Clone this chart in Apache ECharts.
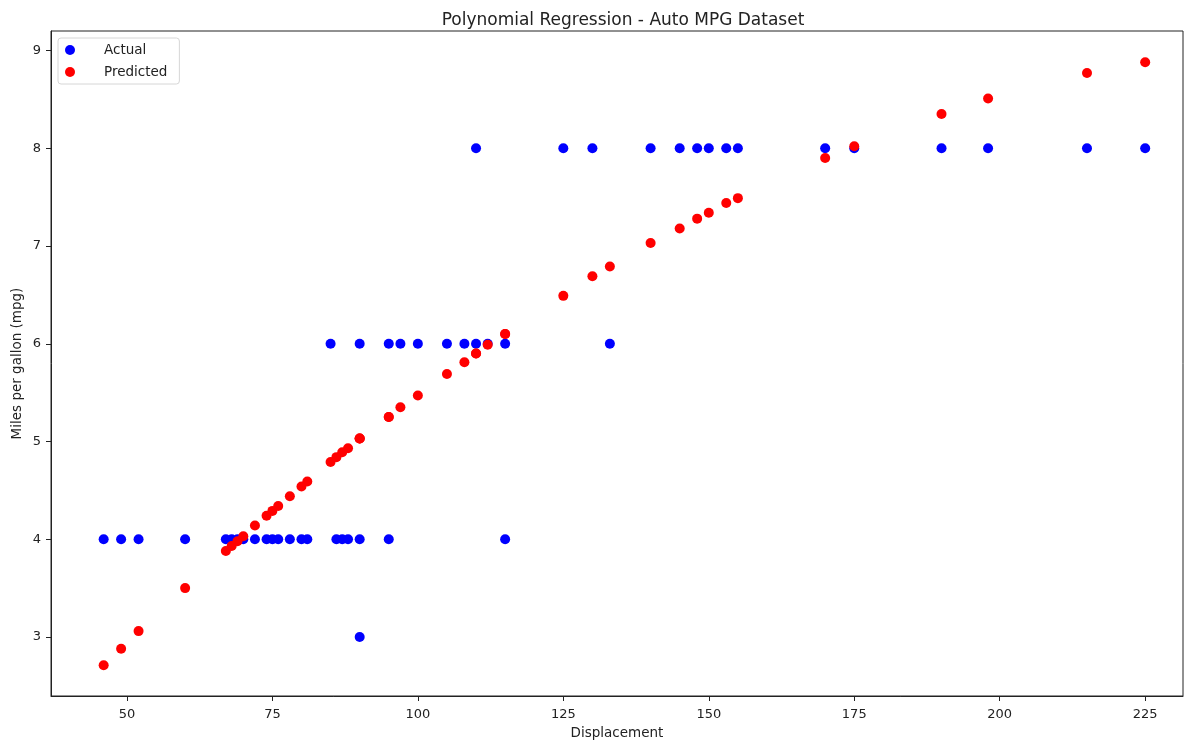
<!DOCTYPE html>
<html>
<head>
<meta charset="utf-8">
<script src="https://cdn.jsdelivr.net/npm/echarts@6/dist/echarts.min.js"></script>
<style>html,body{margin:0;padding:0;background:#fff}#c{width:1190px;height:742px}</style>
</head>
<body>
<div id="c"></div>
<script>
const displacement = [46,49,52,60,67,68,69,70,72,74,75,76,78,80,81,86,87,88,90,95,115,
  90,
  85,90,95,97,100,105,108,110,112,115,133,
  110,125,130,140,145,148,150,153,155,170,175,190,198,215,225];
const actual = [4,4,4,4,4,4,4,4,4,4,4,4,4,4,4,4,4,4,4,4,4,
  3,
  6,6,6,6,6,6,6,6,6,6,6,
  8,8,8,8,8,8,8,8,8,8,8,8,8,8,8];
const predicted = [2.71,2.88,3.06,3.50,3.88,3.93,3.98,4.03,4.14,4.24,4.29,4.34,4.44,4.54,4.59,4.84,4.89,4.93,5.03,5.25,6.10,
  5.03,
  4.79,5.03,5.25,5.35,5.47,5.69,5.81,5.90,5.99,6.10,6.79,
  5.90,6.49,6.69,7.03,7.18,7.28,7.34,7.44,7.49,7.90,8.02,8.35,8.51,8.77,8.88];
const xTicks = [50,75,100,125,150,175,200,225];
const yTicks = [3,4,5,6,7,8,9];

const font = 'DejaVu Sans';
const txt = '#222';
const chart = echarts.init(document.getElementById('c'), null, {renderer:'canvas'});
chart.setOption({
  animation: false,
  backgroundColor: '#fff',
  title: {
    text: 'Polynomial Regression - Auto MPG Dataset',
    left: 618, top: 7, textAlign: 'center',
    textStyle: {fontFamily: font, fontSize: 17, fontWeight: 'normal', color: txt}
  },
  legend: {
    orient: 'vertical', left: 58, top: 38,
    padding: [5, 12, 5, 7],
    itemWidth: 10, itemHeight: 10, itemGap: 8,
    borderColor: '#d6d6d6', borderWidth: 1, borderRadius: 3,
    textStyle: {fontFamily: font, fontSize: 13.5, color: txt, padding: [0,0,0,24]},
    data: [{name:'Actual', icon:'circle'}, {name:'Predicted', icon:'circle'}]
  },
  grid: {left: 51, right: 7, top: 31, bottom: 46, show: true, borderColor: '#222', borderWidth: 1,
         containLabel: false, outerBoundsMode: 'none'},
  xAxis: {
    type: 'value', min: 36.95, max: 231.5,
    name: 'Displacement', nameLocation: 'middle', nameGap: 30,
    nameTextStyle: {fontFamily: font, fontSize: 13.5, color: txt},
    axisLine: {show: true, onZero: false, lineStyle: {color: '#222'}},
    axisTick: {show: true, length: 5, lineStyle: {color: '#222'}, customValues: xTicks},
    axisLabel: {fontFamily: font, fontSize: 13, color: txt, margin: 12, customValues: xTicks},
    splitLine: {show: false}
  },
  yAxis: {
    type: 'value', min: 2.396, max: 9.2,
    name: 'Miles per gallon (mpg)', nameLocation: 'middle', nameGap: 27, nameRotate: 90,
    nameMoveOverlap: false,
    nameTextStyle: {fontFamily: font, fontSize: 13.5, color: txt},
    axisLine: {show: true, onZero: false, lineStyle: {color: '#222'}},
    axisTick: {show: true, length: 5, lineStyle: {color: '#222'}, customValues: yTicks},
    axisLabel: {fontFamily: font, fontSize: 13, color: txt, margin: 10, customValues: yTicks},
    splitLine: {show: false}
  },
  series: [
    {name: 'Actual', type: 'scatter', symbolSize: 10,
     itemStyle: {color: '#0000ff', opacity: 1},
     data: displacement.map((x,i)=>[x, actual[i]])},
    {name: 'Predicted', type: 'scatter', symbolSize: 10,
     itemStyle: {color: '#ff0000', opacity: 1},
     data: displacement.map((x,i)=>[x, predicted[i]])}
  ]
});
</script>
</body>
</html>
